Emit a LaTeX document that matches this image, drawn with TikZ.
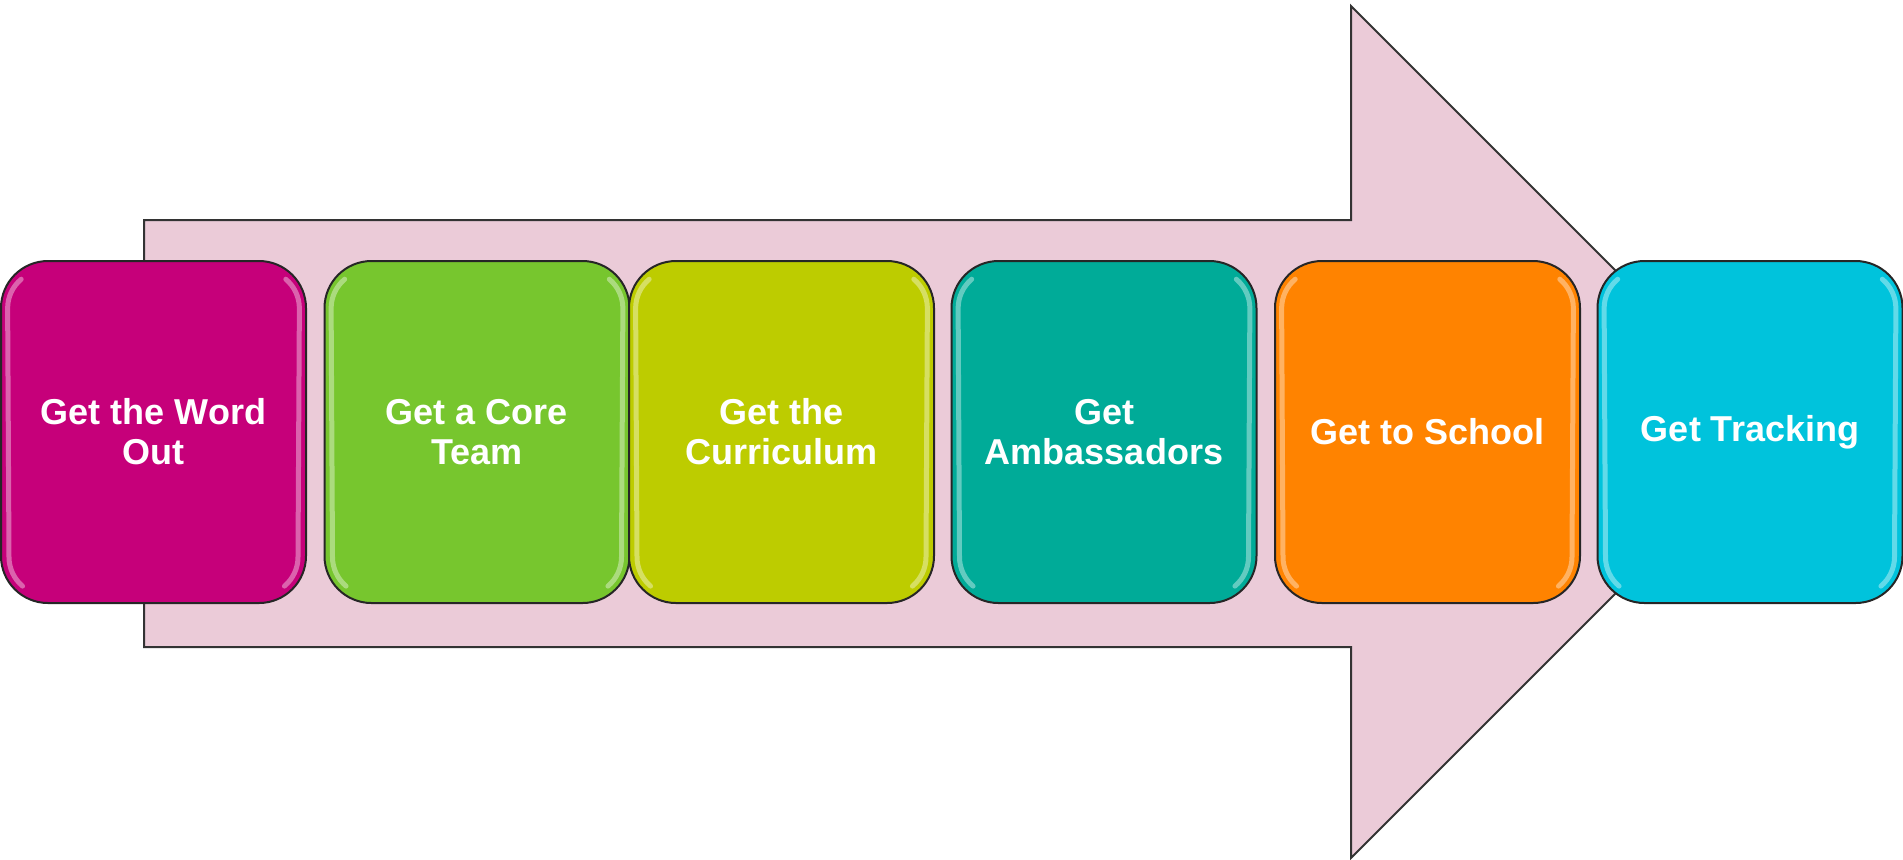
\documentclass[tikz,border=0pt]{standalone}
\usepackage{fontspec}
\setmainfont{Liberation Sans}
\definecolor{arrowpink}{HTML}{EBCBD8}
\definecolor{cA}{HTML}{C6007A}
\definecolor{cB}{HTML}{77C62E}
\definecolor{cC}{HTML}{BDCC00}
\definecolor{cD}{HTML}{00AB98}
\definecolor{cE}{HTML}{FF8300}
\definecolor{cF}{HTML}{00C3DC}
\begin{document}
\begin{tikzpicture}[x=0.5pt,y=-0.5pt,
  arrowshape/.style={fill=arrowpink, draw=black!80, line width=1pt, line join=miter},
  stepbox/.style={draw=black!85, line width=1pt, rounded corners=23.5pt,
    minimum width=152.5pt, minimum height=171pt, inner sep=0pt,
    text=white, font=\fontsize{18}{20}\selectfont\bfseries, align=center},
  gloss/.style={line width=2.5pt, line cap=round, opacity=0.7}]
\useasboundingbox (0,0) rectangle (1903,859);
% big arrow
\draw[arrowshape] (144,220) -- (1351,220) -- (1351,6) -- (1777,432)
  -- (1351,858) -- (1351,647) -- (144,647) -- cycle;
% boxes
\node[stepbox, fill=cA] (b1) at (153.5,432) {Get the Word\\Out};
\node[stepbox, fill=cB] (b2) at (477,432) {Get a Core\\Team};
\node[stepbox, fill=cC] (b3) at (781.5,432) {Get the\\Curriculum};
\node[stepbox, fill=cD] (b4) at (1104,432) {Get\\Ambassadors};
\node[stepbox, fill=cE] (b5) at (1427.5,432) {Get to School};
\node[stepbox, fill=cF] (b6) at (1750,432) {Get Tracking};
% glossy side highlights
\foreach \n/\c in {b1/cA,b2/cB,b3/cC,b4/cD,b5/cE,b6/cF}{
  \draw[gloss, \c!45!white]
    ([shift={(10.6pt,-9.6pt)}]\n.north west) arc[start angle=130,end angle=180,radius=19pt]
    -- ([shift={(4.5pt,23.5pt)}]\n.south west) arc[start angle=180,end angle=230,radius=19pt];
  \draw[gloss, \c!45!white]
    ([shift={(-10.6pt,-9.6pt)}]\n.north east) arc[start angle=50,end angle=0,radius=19pt]
    -- ([shift={(-4.5pt,23.5pt)}]\n.south east) arc[start angle=0,end angle=-50,radius=19pt];
}
\end{tikzpicture}
\end{document}
